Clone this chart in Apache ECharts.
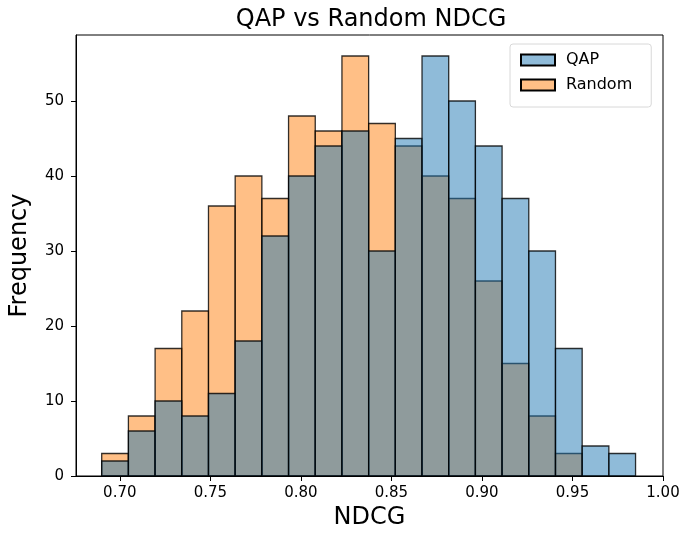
<!DOCTYPE html>
<html>
<head>
<meta charset="utf-8">
<script src="https://cdn.jsdelivr.net/npm/echarts@6/dist/echarts.min.js"></script>
<style>
  html, body { margin: 0; padding: 0; background: #fff; }
  #chart { width: 685px; height: 537px; }
</style>
</head>
<body>
<div id="chart"></div>
<script>
// histogram bins (NDCG), 20 equal bins
var binStart = 0.690;
var binWidth = 0.014742;
var qapCounts    = [2, 6, 10, 8, 11, 18, 32, 40, 44, 46, 30, 45, 56, 50, 44, 37, 30, 17, 4, 3];
var randomCounts = [3, 8, 17, 22, 36, 40, 37, 48, 46, 56, 47, 44, 40, 37, 26, 15, 8, 3, 0, 0];
var xTicks = [0.70, 0.75, 0.80, 0.85, 0.90, 0.95, 1.00];
var yTicks = [0, 10, 20, 30, 40, 50];

function toBins(counts){
    var out = [];
    counts.map(function(c, i){
        if (c > 0) {
            var x0 = binStart + i * binWidth;
            out.push([x0, x0 + binWidth, c]);
        }
    });
    return out;
}

function makeRender(fill){
    return function(params, api){
        var p0 = api.coord([api.value(0), api.value(2)]);
        var p1 = api.coord([api.value(1), 0]);
        return {
            type: 'rect',
            shape: { x: p0[0], y: p0[1], width: p1[0] - p0[0], height: p1[1] - p0[1] },
            style: { fill: fill, stroke: 'rgba(0,0,0,0.8)', lineWidth: 1.3 }
        };
    };
}

var font = 'DejaVu Sans';
var blue = 'rgba(31,119,180,0.5)';
var orange = 'rgba(255,127,14,0.5)';

var option = {
    animation: false,
    title: {
        text: 'QAP vs Random NDCG',
        left: 366,
        textAlign: 'center',
        top: 3,
        textStyle: { fontFamily: font, fontSize: 24, fontWeight: 'normal', color: '#000' }
    },
    legend: {
        orient: 'vertical',
        left: 510,
        top: 44,
        data: ['QAP', 'Random'],
        icon: 'rect',
        itemWidth: 34,
        itemHeight: 11,
        itemGap: 9,
        padding: [8, 19, 14, 10],
        borderColor: '#d8d8d8',
        borderWidth: 1,
        borderRadius: 3,
        backgroundColor: 'rgba(255,255,255,0.8)',
        textStyle: { fontFamily: font, fontSize: 16, lineHeight: 16, color: '#000', padding: [0, 0, 0, 6] }
    },
    grid: {
        left: 70, right: 22, top: 35, bottom: 61,
        show: true, borderColor: '#000', borderWidth: 1, backgroundColor: 'transparent'
    },
    xAxis: {
        type: 'value',
        min: 0.6758,
        max: 1.0,
        name: 'NDCG',
        nameLocation: 'middle',
        nameGap: 30,
        nameTextStyle: { fontFamily: font, fontSize: 24, color: '#000' },
        axisLine: { show: true, onZero: false, lineStyle: { color: '#000' } },
        axisTick: { show: true, inside: false, length: 5, customValues: xTicks, lineStyle: { color: '#000' } },
        axisLabel: {
            customValues: xTicks, margin: 10,
            fontFamily: font, fontSize: 15, color: '#000',
            formatter: function(v){ return v.toFixed(2); }
        },
        splitLine: { show: false }
    },
    yAxis: {
        type: 'value',
        min: 0,
        max: 58.8,
        name: 'Frequency',
        nameLocation: 'middle',
        nameGap: 44,
        nameTextStyle: { fontFamily: font, fontSize: 24, color: '#000' },
        axisLine: { show: true, lineStyle: { color: '#000' } },
        axisTick: { show: true, inside: false, length: 5, customValues: yTicks, lineStyle: { color: '#000' } },
        axisLabel: { customValues: yTicks, margin: 12, fontFamily: font, fontSize: 15, color: '#000' },
        splitLine: { show: false }
    },
    series: [
        {
            name: 'Random',
            type: 'custom',
            renderItem: makeRender(orange),
            itemStyle: { color: orange, borderColor: '#000', borderWidth: 1.3 },
            encode: { x: [0, 1], y: 2 },
            data: toBins(randomCounts)
        },
        {
            name: 'QAP',
            type: 'custom',
            renderItem: makeRender(blue),
            itemStyle: { color: blue, borderColor: '#000', borderWidth: 1.3 },
            encode: { x: [0, 1], y: 2 },
            data: toBins(qapCounts)
        }
    ]
};

var myChart = echarts.init(document.getElementById('chart'));
myChart.setOption(option);
</script>
</body>
</html>
